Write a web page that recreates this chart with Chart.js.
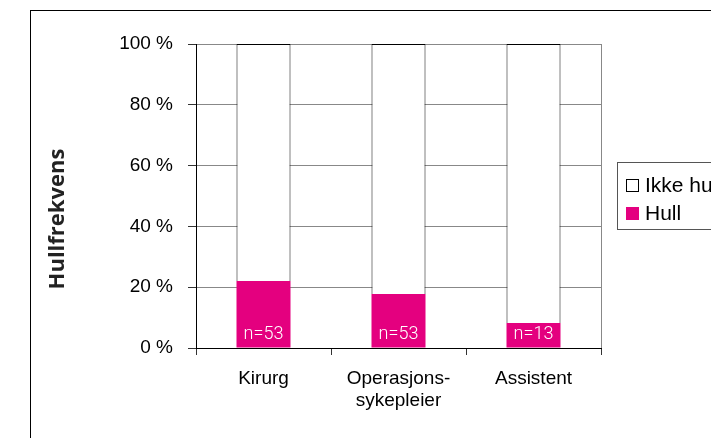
<!DOCTYPE html>
<html>
<head>
<meta charset="utf-8">
<script src="https://cdn.jsdelivr.net/npm/chart.js@4.4.1/dist/chart.umd.min.js"></script>
<style>
  html, body { margin: 0; padding: 0; background: #fff; }
</style>
</head>
<body>
<canvas id="hullChart" width="711" height="438"></canvas>
<script>
const categories = ['Kirurg', ['Operasjons-', 'sykepleier'], 'Assistent'];
const hull = [22, 17.8, 8.2];
const ikkeHull = [78, 82.2, 91.8];
const sampleSizes = ['n=53', 'n=53', 'n=13'];
const yTicks = [0, 20, 40, 60, 80, 100];

const magenta = '#E4007F';
const tickFont = { family: 'Liberation Sans', size: 19 };

// frame, right edge, n= labels, rotated title and the cut-off legend
const extras = {
    id: 'extras',
    beforeDatasetsDraw(chart) {
        const ctx = chart.ctx;
        const a = chart.chartArea;
        ctx.save();
        ctx.strokeStyle = '#888';
        ctx.lineWidth = 1;
        ctx.beginPath();
        ctx.moveTo(Math.round(a.right) + 0.5, a.top);
        ctx.lineTo(Math.round(a.right) + 0.5, a.bottom);
        ctx.stroke();
        ctx.restore();
    },
    afterDraw(chart) {
        const ctx = chart.ctx;
        ctx.save();

        // outer frame
        ctx.strokeStyle = '#000';
        ctx.lineWidth = 1;
        ctx.strokeRect(30.5, 10.5, 800, 600);

        // n= labels in the hull bars
        const meta = chart.getDatasetMeta(0);
        ctx.fillStyle = '#fff';
        ctx.font = '300 18px Roboto';
        ctx.textAlign = 'center';
        ctx.textBaseline = 'middle';
        meta.data.forEach((bar, i) => {
            ctx.fillText(sampleSizes[i], bar.x, bar.base - 13);
        });

        // y title
        ctx.save();
        ctx.translate(58, 219);
        ctx.rotate(-Math.PI / 2);
        ctx.fillStyle = '#222';
        ctx.font = 'bold 22px "Open Sans"';
        ctx.textAlign = 'center';
        ctx.textBaseline = 'middle';
        ctx.fillText('Hullfrekvens', 0, 0);
        ctx.restore();

        // legend (reverse order, cut off by the right edge)
        ctx.strokeStyle = '#555';
        ctx.strokeRect(617.5, 162.5, 200, 67);
        const ds = chart.data.datasets.slice().reverse();
        ctx.font = '21px "Liberation Sans"';
        ctx.textAlign = 'left';
        ctx.textBaseline = 'middle';
        ds.forEach((d, i) => {
            const y = 179 + i * 28;
            ctx.fillStyle = d.backgroundColor;
            ctx.fillRect(626, y, 13, 13);
            if (d.borderWidth) {
                ctx.strokeStyle = '#000';
                ctx.strokeRect(626.5, y + 0.5, 12, 12);
            }
            ctx.fillStyle = '#000';
            ctx.fillText(d.label, 645, y + 7);
        });
        ctx.restore();
    }
};

new Chart(document.getElementById('hullChart'), {
    type: 'bar',
    data: {
        labels: categories,
        datasets: [
            {
                label: 'Hull',
                data: hull,
                backgroundColor: magenta,
                borderWidth: 0,
                barPercentage: 0.4,
                categoryPercentage: 1
            },
            {
                label: 'Ikke hull',
                data: ikkeHull,
                backgroundColor: '#fff',
                borderColor: '#000',
                borderWidth: 1,
                borderSkipped: 'bottom',
                barPercentage: 0.4,
                categoryPercentage: 1
            }
        ]
    },
    options: {
        responsive: false,
        animation: false,
        layout: { padding: { left: 0, top: 44, right: 110, bottom: 0 } },
        plugins: {
            legend: { display: false },
            tooltip: { enabled: false }
        },
        scales: {
            x: {
                stacked: true,
                afterFit: s => { s.height = 90; },
                grid: { drawOnChartArea: false, tickLength: 7, color: '#333' },
                border: { color: '#000' },
                ticks: { color: '#000', font: tickFont, padding: 12, maxRotation: 0 }
            },
            y: {
                stacked: true,
                min: 0,
                max: 100,
                afterFit: s => { s.width = 196; },
                afterBuildTicks: s => { s.ticks = yTicks.map(v => ({ value: v })); },
                grid: {
                    color: c => (c.tick && c.tick.value === 0 ? '#000' : '#888'),
                    tickColor: '#333',
                    tickLength: 8
                },
                border: { color: '#000' },
                ticks: {
                    color: '#000',
                    font: tickFont,
                    padding: 15,
                    callback: v => v + ' %'
                }
            }
        }
    },
    plugins: [extras]
});
</script>
</body>
</html>
